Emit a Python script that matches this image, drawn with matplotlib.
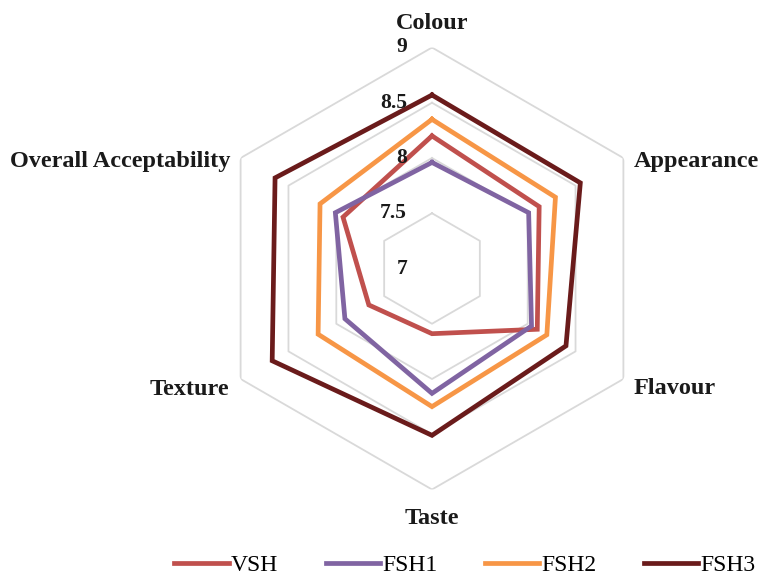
import numpy as np
import matplotlib
matplotlib.use("Agg")
import matplotlib.pyplot as plt

plt.rcParams['font.family'] = ['Liberation Serif', 'DejaVu Serif']

# sensory attributes, clockwise from the top
categories = ["Colour", "Appearance", "Flavour", "Taste", "Texture", "Overall Acceptability"]
vsh = [8.20, 8.12, 8.10, 7.59, 7.66, 7.93]
fsh1 = [7.96, 8.01, 8.04, 8.13, 7.91, 8.01]
fsh2 = [8.35, 8.29, 8.20, 8.25, 8.19, 8.17]
fsh3 = [8.57, 8.55, 8.40, 8.51, 8.67, 8.64]
series_names = ["VSH", "FSH1", "FSH2", "FSH3"]
ring_ticks = [7, 7.5, 8, 8.5, 9]

colors = ["#C0504D", "#8064A2", "#F79646", "#6A1B1B"]

W, H = 765, 575
fig = plt.figure(figsize=(W / 100, H / 100), dpi=100)
cx, cy, R = 432, 268.5, 221
ax = fig.add_axes([(cx - R) / W, (H - cy - R) / H, 2 * R / W, 2 * R / H], polar=True)
ax.set_theta_offset(np.pi / 2)
ax.set_theta_direction(-1)
ax.set_ylim(ring_ticks[0], ring_ticks[-1])
ax.grid(False)
ax.spines['polar'].set_visible(False)
ax.set_xticks([])
ax.set_yticks([])
ax.patch.set_alpha(0)

n = len(categories)
ang = np.linspace(0, 2 * np.pi, n, endpoint=False)
ang_c = np.append(ang, ang[0])

# hexagon grid
for t in ring_ticks[1:]:
    ax.plot(ang_c, [t] * (n + 1), color="#D9D9D9", lw=1.3, zorder=1)

for name, vals, c in zip(series_names, [vsh, fsh1, fsh2, fsh3], colors):
    ax.plot(ang_c, vals + vals[:1], color=c, lw=3.4, label=name, zorder=3,
            solid_joinstyle='miter')

# radial tick labels
for t in ring_ticks:
    ax.annotate(f"{t:g}", xy=(0, t), xytext=(-25, 0), textcoords='offset pixels',
                ha='right', va='center', fontsize=15.5, fontweight='bold', color="#1a1a1a",
                annotation_clip=False)

# category labels
offsets = [(0, 24, 'center'), (10, -3, 'left'), (10, -10, 'left'),
           (0, -29, 'center'), (-11, -10, 'right'), (-10, -3, 'right')]
for a, lab, (dx, dy, ha) in zip(ang, categories, offsets):
    ax.annotate(lab, xy=(a, 9), xytext=(dx, dy), textcoords='offset pixels',
                ha=ha, va='center', fontsize=17.5, fontweight='bold', color="#1a1a1a",
                annotation_clip=False)

fig.legend(loc='center', bbox_to_anchor=(465 / W, 1 - 565 / H), ncol=4, frameon=False,
           fontsize=17, handlelength=2.3, handletextpad=0.1, columnspacing=2.0,
           borderaxespad=0, borderpad=0)

fig.savefig("out.png", dpi=100)
